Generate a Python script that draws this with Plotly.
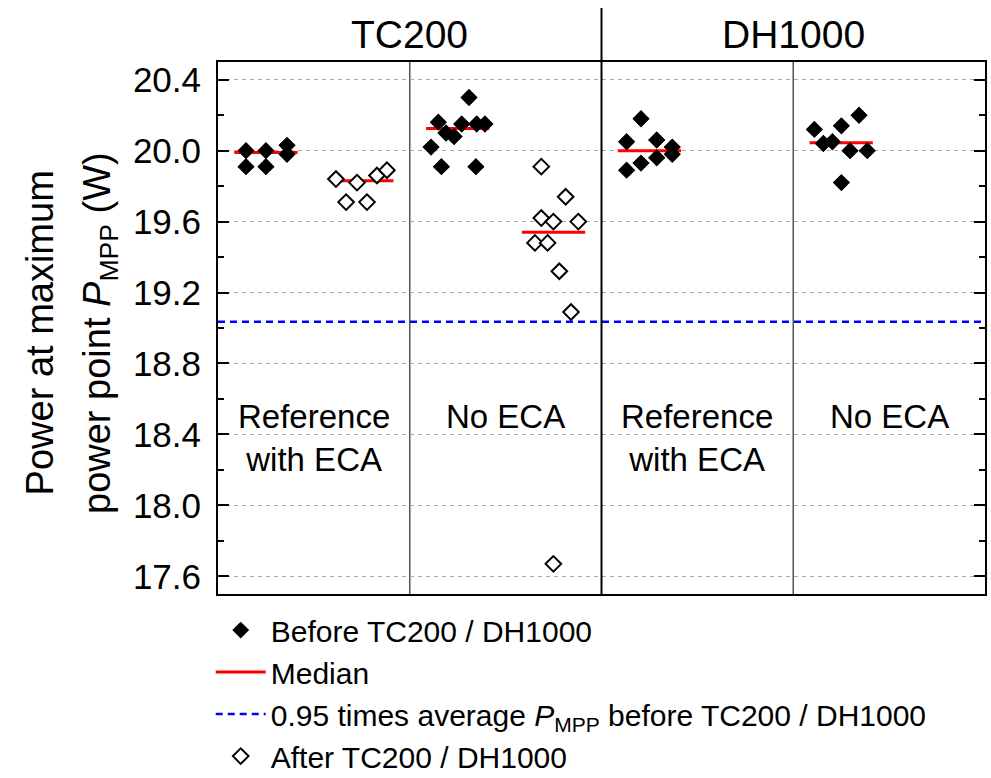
import numpy as np
import plotly.graph_objects as go

# ---------------- data ----------------
group_labels = ["Reference<br>with ECA", "No ECA", "Reference<br>with ECA", "No ECA"]
group_centers = [0.5, 1.5, 2.5, 3.5]
test_labels = ["TC200", "DH1000"]
test_centers = [1.0, 3.0]

# TC200, reference with ECA
ref_tc_before_x = [0.146, 0.250, 0.360, 0.360, 0.146, 0.250]
ref_tc_before_y = [20.00, 20.00, 20.03, 19.98, 19.91, 19.91]
ref_tc_after_x = [0.615, 0.725, 0.829, 0.881, 0.668, 0.777]
ref_tc_after_y = [19.84, 19.82, 19.86, 19.89, 19.71, 19.71]
# TC200, no ECA
no_tc_before_x = [1.111, 1.149, 1.189, 1.231, 1.271, 1.309, 1.349, 1.392, 1.165, 1.345]
no_tc_before_y = [20.02, 20.16, 20.10, 20.08, 20.15, 20.30, 20.15, 20.15, 19.91, 19.91]
no_tc_after_x = [1.686, 1.813, 1.686, 1.749, 1.879, 1.653, 1.719, 1.780, 1.841, 1.749]
no_tc_after_y = [19.91, 19.74, 19.62, 19.60, 19.60, 19.48, 19.48, 19.32, 19.09, 17.67]
# DH1000, reference with ECA
ref_dh_before_x = [2.131, 2.206, 2.288, 2.369, 2.369, 2.288, 2.206, 2.131]
ref_dh_before_y = [20.05, 20.18, 20.06, 20.02, 19.98, 19.96, 19.93, 19.89]
# DH1000, no ECA
no_dh_before_x = [3.110, 3.157, 3.204, 3.251, 3.343, 3.296, 3.386, 3.251]
no_dh_before_y = [20.12, 20.04, 20.05, 20.14, 20.20, 20.00, 20.00, 19.82]

median_centers = [0.25, 0.75, 1.25, 1.75, 2.25, 3.25]
median_halfwidth = 0.165

y_ticks = [17.6, 18.0, 18.4, 18.8, 19.2, 19.6, 20.0, 20.4]
y_ticktext = ["17.6", "18.0", "18.4", "18.8", "19.2", "19.6", "20.0", "20.4"]

# ---------------- derived ----------------
before_sets = [(ref_tc_before_x, ref_tc_before_y), (no_tc_before_x, no_tc_before_y),
               (ref_dh_before_x, ref_dh_before_y), (no_dh_before_x, no_dh_before_y)]
after_sets = [(ref_tc_after_x, ref_tc_after_y), (no_tc_after_x, no_tc_after_y)]

bx = sum([s[0] for s in before_sets], [])
by = sum([s[1] for s in before_sets], [])
ax_ = sum([s[0] for s in after_sets], [])
ay = sum([s[1] for s in after_sets], [])

median_values = [np.median(ref_tc_before_y), np.median(ref_tc_after_y),
                 np.median(no_tc_before_y), np.median(no_tc_after_y),
                 np.median(ref_dh_before_y), np.median(no_dh_before_y)]
mx, my = [], []
for c, m in zip(median_centers, median_values):
    mx += [c - median_halfwidth, c + median_halfwidth, None]
    my += [m, m, None]

threshold = 0.95 * np.mean(by)

FONT = "Liberation Sans, Arial, sans-serif"

fig = go.Figure()
fig.add_trace(go.Scatter(x=bx, y=by, mode="markers", name="Before TC200 / DH1000",
                         marker=dict(symbol="diamond", size=13, color="black",
                                     line=dict(width=0)), cliponaxis=False))
fig.add_trace(go.Scatter(x=mx, y=my, mode="lines", name="Median",
                         line=dict(color="#ff0000", width=3)))
fig.add_trace(go.Scatter(x=[0, 4], y=[threshold, threshold], mode="lines",
                         name="0.95 times average <i>P</i><sub>MPP</sub> before TC200 / DH1000",
                         line=dict(color="#0000ff", width=2.5, dash="7px,5px")))
fig.add_trace(go.Scatter(x=ax_, y=ay, mode="markers", name="After TC200 / DH1000",
                         marker=dict(symbol="diamond", size=12, color="white",
                                     line=dict(width=2, color="black")), cliponaxis=False))
# before markers drawn again on top of the median lines (no legend entry)
fig.add_trace(go.Scatter(x=bx, y=by, mode="markers", showlegend=False,
                         marker=dict(symbol="diamond", size=13, color="black"),
                         hoverinfo="skip"))

# separators
for xv in [1, 3]:
    fig.add_shape(type="line", xref="x", yref="paper", x0=xv, x1=xv, y0=0, y1=1,
                  line=dict(color="#555555", width=1.5), layer="below")
fig.add_shape(type="line", xref="x", yref="paper", x0=2, x1=2, y0=0, y1=1.1015,
              line=dict(color="black", width=2))

# group labels
for xc, lab in zip(group_centers, group_labels):
    fig.add_annotation(x=xc, y=18.618, xref="x", yref="y", text=lab, showarrow=False,
                       yanchor="top", font=dict(size=33, color="black", family=FONT))
for xc, lab in zip(test_centers, test_labels):
    fig.add_annotation(x=xc, y=1.0508, xref="x", yref="paper",
                       text=lab, showarrow=False, yanchor="middle",
                       font=dict(size=39, color="black", family=FONT))

# y title (two lines)
fig.add_annotation(x=-0.232, y=0.49, xref="paper", yref="paper", text="Power at maximum",
                   textangle=-90, showarrow=False, xanchor="center", yanchor="middle",
                   font=dict(size=38, color="black", family=FONT))
fig.add_annotation(x=-0.153, y=0.49, xref="paper", yref="paper",
                   text="power point <i>P</i><sub>MPP</sub> (W)",
                   textangle=-90, showarrow=False, xanchor="center", yanchor="middle",
                   font=dict(size=38, color="black", family=FONT))

fig.update_xaxes(range=[0, 4], showgrid=False, showticklabels=False, ticks="",
                 zeroline=False, showline=True, linecolor="black", linewidth=2, mirror=True)
fig.update_yaxes(range=[17.5, 20.5], tickvals=y_ticks, ticktext=y_ticktext,
                 ticks="inside", ticklen=11, tickwidth=2, tickcolor="black",
                 showline=True, linecolor="black", linewidth=2, mirror="ticks",
                 showgrid=True, gridcolor="#aaaaaa", gridwidth=1, griddash="4px,4px",
                 zeroline=False, ticklabelstandoff=8,
                 tickfont=dict(size=35, color="black", family=FONT),
                 minor=dict(dtick=0.2, ticks="inside", ticklen=6, tickwidth=2,
                            tickcolor="black", showgrid=False))

fig.update_layout(
    width=991, height=778,
    margin=dict(l=218, r=6, t=62, b=184, autoexpand=False),
    paper_bgcolor="white", plot_bgcolor="white",
    font=dict(family=FONT, color="black"),
    showlegend=True,
    legend=dict(x=-0.0095, y=-0.019, xanchor="left", yanchor="top",
                font=dict(size=30, color="black", family=FONT),
                itemwidth=50, tracegroupgap=0, bgcolor="rgba(0,0,0,0)"),
)

fig.write_html("out.html")
